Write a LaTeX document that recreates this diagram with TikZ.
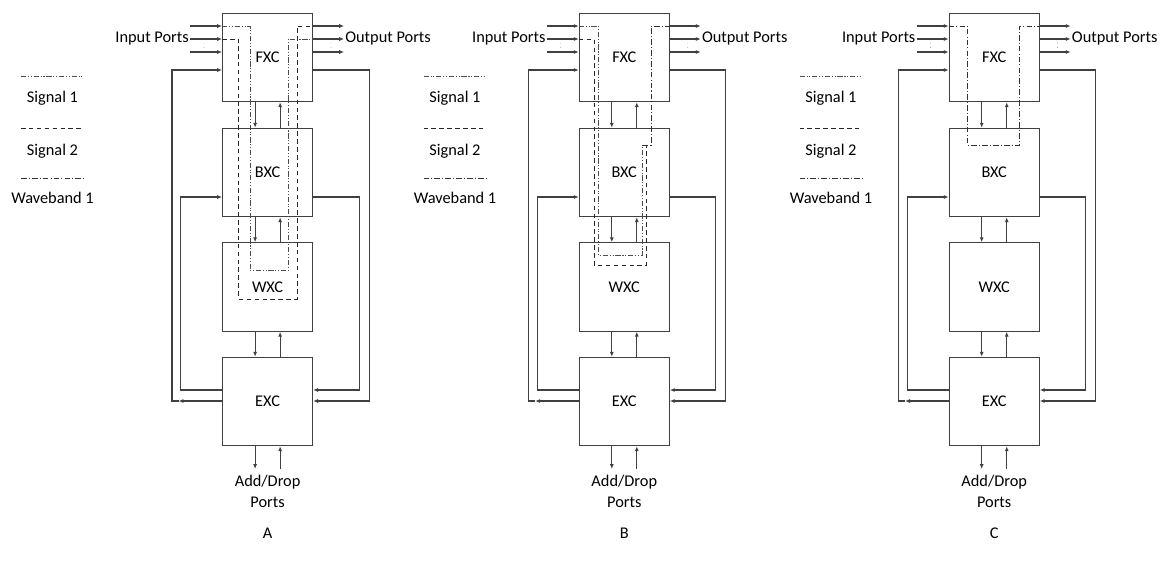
\documentclass[tikz,border=0pt]{standalone}
\usepackage{fontspec}
\setmainfont{Carlito}
\usepackage{tikz}
\usetikzlibrary{arrows.meta, positioning, calc}
\definecolor{boxgray}{RGB}{64, 64, 64}

\begin{document}
\begin{tikzpicture}[
    x=0.02cm, y=-0.02cm,
    font=\fontsize{9.3}{12}\selectfont,
    xcbox/.style={draw=boxgray, line width=0.6pt, minimum width=1.8cm,
                  minimum height=1.77cm, inner sep=0pt},
    arrow/.style={-{Latex[length=2.8pt,width=2.3pt]}, line width=0.6pt, boxgray},
    sigone/.style={line width=0.5pt, black!70,
                   dash pattern=on 3pt off 1pt on 0.6pt off 1pt on 0.6pt off 1pt},
    sigtwo/.style={line width=0.45pt, black!85, dash pattern=on 2.6pt off 1.9pt},
    waveband/.style={line width=0.5pt, black!80,
                     dash pattern=on 3.2pt off 1.2pt on 0.6pt off 1.2pt}
]
    \useasboundingbox (0,0) rectangle (1160,569);

    \foreach \p/\cx/\lx in {A/267.6/52.5, B/624.3/455, C/994.2/831} {
        % the four cross-connects
        \node[xcbox] (fxc\p) at (\cx,57.5) {FXC};
        \node[xcbox] (bxc\p) at (\cx,172.5) {BXC};
        \node[xcbox] (wxc\p) at (\cx,287) {WXC};
        \node[xcbox] (exc\p) at (\cx,401.5) {EXC};

        % input and output ports
        \foreach \y in {26,39,52} {
            \coordinate (i\p\y) at (\cx-77.6,\y);
            \coordinate (o\p\y) at (\cx+76.5,\y);
            \draw[arrow] (i\p\y) -- (i\p\y -| fxc\p.west);
            \draw[arrow] (o\p\y -| fxc\p.east) -- (o\p\y);
        }
        \node[anchor=east, inner sep=0.5pt] (inp\p) at (i\p39) {Input Ports};
        \node[anchor=west, inner sep=0.5pt] (outp\p) at (o\p39) {Output Ports};
        \foreach \dx in {-63.6,63.4}
            \fill[black!45] (\cx+\dx,43) circle (0.25pt) (\cx+\dx,47.5) circle (0.25pt);

        % links between the cross-connects
        \coordinate (dn\p) at (\cx-12.5,469);
        \coordinate (up\p) at (\cx+12.5,469);
        \foreach \a/\b in {fxc/bxc, bxc/wxc, wxc/exc} {
            \draw[arrow] (dn\p |- \a\p.south) -- (dn\p |- \b\p.north);
            \draw[arrow] (up\p |- \b\p.north) -- (up\p |- \a\p.south);
        }
        \draw[arrow] (dn\p |- exc\p.south) -- (dn\p);
        \draw[arrow] (up\p) -- (up\p |- exc\p.south);
        \node[align=center] (adp\p) at (\cx,491.5) {Add/Drop\\Ports};

        % feedback loops
        \coordinate (lot\p) at (\cx-95.6,70);
        \coordinate (lob\p) at (\cx-95.6,401);
        \coordinate (rot\p) at (\cx+101.5,70);
        \coordinate (rob\p) at (\cx+101.5,401);
        \coordinate (lit\p) at (\cx-87,197);
        \coordinate (lib\p) at (\cx-87,390);
        \coordinate (rit\p) at (\cx+91.5,197);
        \coordinate (rib\p) at (\cx+91.5,390);
        \draw[arrow] (rot\p -| fxc\p.east) -- (rot\p) -- (rob\p) -- (rob\p -| exc\p.east);
        \draw[arrow] (rit\p -| bxc\p.east) -- (rit\p) -- (rib\p) -- (rib\p -| exc\p.east);
        \draw[arrow] (lib\p -| exc\p.west) -- (lib\p) -- (lit\p) -- (lit\p -| bxc\p.west);
        \draw[arrow] (lob\p -| exc\p.west) -- ([xshift=0.13cm]lob\p);
        \draw[arrow] ([xshift=0.13cm]lob\p) -- (lob\p) -- (lot\p) -- (lot\p -| fxc\p.west);

        % legend
        \draw[sigone] (\lx-31.5,76) -- (\lx+31.5,76);
        \node (sa\p) at (\lx,98) {Signal 1};
        \draw[sigtwo] (\lx-31.5,128) -- (\lx+31.5,128);
        \node (sb\p) at (\lx,151) {Signal 2};
        \draw[waveband] (\lx-31.5,178) -- (\lx+31.5,178);
        \node (wb\p) at (\lx,198) {Waveband 1};

        % panel label
        \node (lbl\p) at (\cx,533) {\p};
    }

    % A: both signals switched on their own
    \draw[sigone] (fxcA.west |- iA26) -- (250,26) -- (250,270.7) -- (288,270.7)
        -- (288,39) -- (oA39 -| fxcA.east);
    \draw[sigtwo] (fxcA.west |- iA39) -- (238.7,39) -- (238.7,299) -- (297,299)
        -- (297,26) -- (oA26 -| fxcA.east);

    % B: signals grouped into waveband 1
    \coordinate (wbB) at (642.3,145);
    \draw[sigone] (fxcB.west |- iB26) -- (598.3,26) -- (598.3,255) -- (642.3,255) -- (wbB);
    \draw[sigtwo] (fxcB.west |- iB39) -- (594,39) -- (594,265) -- (646.7,265) -- (646.7,145);
    \draw[waveband] (wbB) -- (651,145) -- (651,26) -- (oB26 -| fxcB.east);

    % C: waveband only
    \draw[waveband] (fxcC.west |- iC26) -- (967.7,26) -- (967.7,145) -- (1019.3,145)
        -- (1019.3,26) -- (oC26 -| fxcC.east);
\end{tikzpicture}
\end{document}
